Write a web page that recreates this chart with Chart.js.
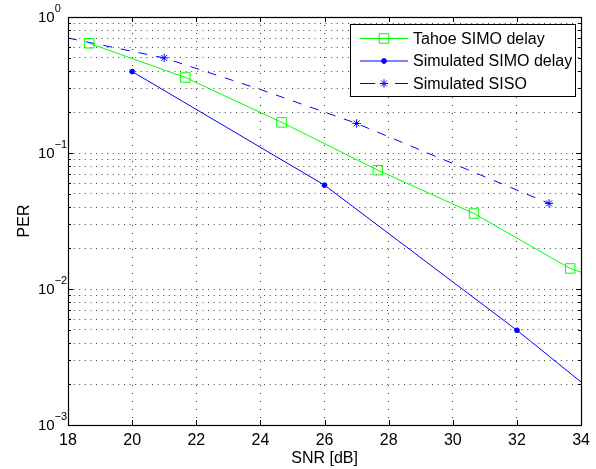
<!DOCTYPE html>
<html>
<head>
<meta charset="utf-8">
<script src="https://cdn.jsdelivr.net/npm/chart.js@4.4.0/dist/chart.umd.min.js"></script>
<style>
  html, body { margin: 0; padding: 0; background: #fff; }
  #wrap { width: 596px; height: 469px; }
</style>
</head>
<body>
<div id="wrap"><canvas id="c" width="596" height="469"></canvas></div>
<script>
// Axis ticks
const snrTicks = [18, 20, 22, 24, 26, 28, 30, 32, 34];
const perGrid = [
  0.001, 0.002, 0.003, 0.004, 0.005, 0.006, 0.007, 0.008, 0.009,
  0.01, 0.02, 0.03, 0.04, 0.05, 0.06, 0.07, 0.08, 0.09,
  0.1, 0.2, 0.3, 0.4, 0.5, 0.6, 0.7, 0.8, 0.9, 1
];
const perDecades = [0.001, 0.01, 0.1, 1];

// Tahoe SIMO delay (markers every 3 dB, line runs to the axis edge)
const tahoeSnr = [18.66, 21.66, 24.66, 27.66, 30.66, 33.66, 34];
const tahoePer = [0.641, 0.359, 0.168, 0.0748, 0.0359, 0.01416, 0.0133];
const tahoeMarked = [18.66, 21.66, 24.66, 27.66, 30.66, 33.66];

// Simulated SIMO delay
const simoSnr = [20, 26, 32, 34];
const simoPer = [0.397, 0.058, 0.00497, 0.00207];
const simoMarked = [20, 26, 32];

// Simulated SISO
const sisoSnr = [18, 21, 24, 27, 30, 33];
const sisoPer = [0.70, 0.50, 0.293, 0.165, 0.0837, 0.0426];
const sisoMarked = [21, 27, 33];

const FONT = "'Liberation Sans', Arial, Helvetica, sans-serif";
const pts = (xs, ys) => xs.map((x, i) => ({ x: x, y: ys[i] }));
const radiusFor = (marked, r) => (ctx) => (ctx.raw && marked.includes(ctx.raw.x) ? r : 0);

const datasets = [
  {
    label: 'Tahoe SIMO delay',
    data: pts(tahoeSnr, tahoePer),
    borderColor: '#00ff00',
    borderWidth: 1,
    pointStyle: 'rect',
    pointRadius: radiusFor(tahoeMarked, 6.7),
    pointBorderColor: '#00ff00',
    pointBackgroundColor: 'rgba(0,0,0,0)',
    pointBorderWidth: 1,
    showLine: true
  },
  {
    label: 'Simulated SIMO delay',
    data: pts(simoSnr, simoPer),
    borderColor: '#0000ff',
    borderWidth: 1,
    pointStyle: 'circle',
    pointRadius: radiusFor(simoMarked, 2.4),
    pointBorderColor: '#0000ff',
    pointBackgroundColor: '#0000ff',
    pointBorderWidth: 1,
    showLine: true
  },
  {
    label: 'Simulated SISO',
    data: pts(sisoSnr, sisoPer),
    borderColor: '#0000ff',
    borderWidth: 1,
    borderDash: [9, 9],
    pointStyle: 'star',
    pointRadius: radiusFor(sisoMarked, 4.2),
    pointBorderColor: '#0000ff',
    pointBackgroundColor: '#0000ff',
    pointBorderWidth: 1,
    showLine: true
  }
];

// Box around the plot plus inward tick marks on all four sides
const boxPlugin = {
  id: 'box',
  afterDatasetsDraw(chart) {
    const { ctx, chartArea: a, scales } = chart;
    ctx.save();
    ctx.strokeStyle = '#000';
    ctx.lineWidth = 1;
    ctx.beginPath();
    snrTicks.slice(1, -1).forEach(v => {
      const x = Math.round(scales.x.getPixelForValue(v)) + 0.5;
      ctx.moveTo(x, a.bottom); ctx.lineTo(x, a.bottom - 5);
      ctx.moveTo(x, a.top); ctx.lineTo(x, a.top + 5);
    });
    perGrid.forEach(v => {
      const y = Math.round(scales.y.getPixelForValue(v)) + 0.5;
      const len = perDecades.includes(v) ? 5 : 3;
      ctx.moveTo(a.left, y); ctx.lineTo(a.left + len, y);
      ctx.moveTo(a.right, y); ctx.lineTo(a.right - len, y);
    });
    ctx.stroke();
    ctx.lineWidth = 1.2;
    ctx.strokeRect(Math.round(a.left) + 0.5, Math.round(a.top) + 0.5,
      Math.round(a.right - a.left), Math.round(a.bottom - a.top));
    ctx.restore();
  }
};

// Power-of-ten labels on the PER axis
const expLabelPlugin = {
  id: 'expLabels',
  afterDraw(chart) {
    const { ctx, scales } = chart;
    ctx.save();
    ctx.fillStyle = '#000';
    ctx.textBaseline = 'middle';
    ctx.textAlign = 'left';
    perDecades.forEach(v => {
      const y = scales.y.getPixelForValue(v);
      const e = Math.round(Math.log10(v));
      const expText = e < 0 ? '\u2212' + (-e) : String(e);
      ctx.font = '15px ' + FONT;
      const x0 = 38;
      ctx.fillText('10', x0, y + 1);
      const w = ctx.measureText('10').width;
      ctx.font = '11px ' + FONT;
      ctx.fillText(expText, x0 + w, y - 8);
    });
    ctx.restore();
  }
};

// Legend box in the upper right corner
const legendPlugin = {
  id: 'boxLegend',
  afterDraw(chart) {
    const { ctx } = chart;
    const left = 350.5, top = 24.5, right = 575.5, bottom = 96.5;
    const rows = [38.5, 61, 83.5];
    ctx.save();
    ctx.fillStyle = '#fff';
    ctx.fillRect(left, top, right - left, bottom - top);
    ctx.strokeStyle = '#000';
    ctx.lineWidth = 1;
    ctx.strokeRect(left, top, right - left, bottom - top);
    chart.data.datasets.forEach((ds, i) => {
      const y = rows[i];
      ctx.save();
      ctx.strokeStyle = ds.borderColor;
      ctx.lineWidth = ds.borderWidth;
      ctx.setLineDash(ds.borderDash ? [15, 20] : []);
      ctx.beginPath();
      ctx.moveTo(360, y); ctx.lineTo(408, y);
      ctx.stroke();
      ctx.setLineDash([]);
      ctx.strokeStyle = ds.pointBorderColor;
      ctx.fillStyle = ds.pointBackgroundColor;
      const r = ds.pointStyle === 'rect' ? 6.7 : ds.pointStyle === 'circle' ? 2.4 : 4.2;
      Chart.helpers.drawPoint(ctx, { pointStyle: ds.pointStyle, radius: r, rotation: 0, borderWidth: 1 }, 384, y);
      ctx.restore();
      ctx.fillStyle = '#000';
      ctx.font = '16px ' + FONT;
      ctx.textBaseline = 'middle';
      ctx.fillText(ds.label, 413, y + 1);
    });
    ctx.restore();
  }
};

new Chart(document.getElementById('c'), {
  type: 'scatter',
  data: { datasets: datasets },
  options: {
    responsive: false,
    animation: false,
    devicePixelRatio: 1,
    layout: { padding: { top: 17, right: 9, left: 0, bottom: 0 } },
    plugins: { legend: { display: false }, tooltip: { enabled: false } },
    elements: { line: { tension: 0 } },
    scales: {
      x: {
        type: 'linear',
        min: 18, max: 34,
        afterBuildTicks: s => { s.ticks = snrTicks.map(v => ({ value: v })); },
        afterFit: s => { s.height = 44; },
        grid: { color: '#333', lineWidth: 1, drawTicks: false },
        border: { display: false, dash: [1, 7] },
        ticks: { color: '#000', padding: 6, font: { family: FONT, size: 16 } },
        title: { display: true, text: 'SNR [dB]', color: '#000',
                 font: { family: FONT, size: 16 }, padding: { top: 0.5, bottom: 0.5 } }
      },
      y: {
        type: 'logarithmic',
        min: 0.001, max: 1,
        afterBuildTicks: s => { s.ticks = perGrid.map(v => ({ value: v })); },
        afterFit: s => { s.width = 68; },
        grid: { color: '#444', lineWidth: 1, drawTicks: false },
        border: { display: false, dash: [1, 4.6] },
        ticks: { display: false },
        title: { display: true, text: 'PER', color: '#000',
                 font: { family: FONT, size: 16 }, padding: { top: 15, bottom: 15 } }
      }
    }
  },
  plugins: [boxPlugin, expLabelPlugin, legendPlugin]
});
</script>
</body>
</html>
